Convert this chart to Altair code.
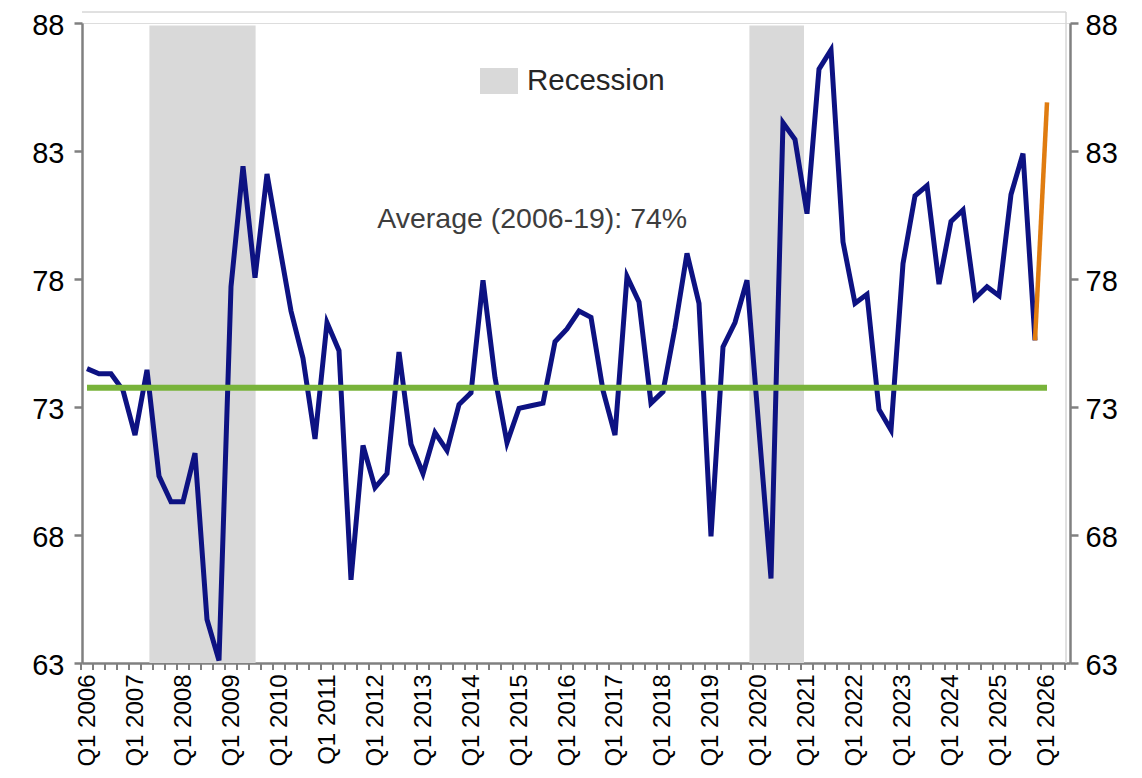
import altair as alt
import pandas as pd

# ---- data (quarter index 0 = Q1 2006) ----
quarter_index = list(range(80))
utilisation = [74.5, 74.3, 74.3, 73.65, 71.9, 74.45, 70.3, 69.3, 69.3, 71.2,
               64.7, 63.1, 77.7, 82.4, 78.05, 82.1, 79.4, 76.75, 74.9, 71.75,
               76.3, 75.2, 66.25, 71.5, 69.85, 70.4, 75.15, 71.55, 70.4, 72.0,
               71.3, 73.1, 73.55, 77.95, 74.15, 71.6, 72.95, 73.05, 73.15, 75.55,
               76.05, 76.75, 76.5, 73.65, 71.9, 78.1, 77.1, 73.15, 73.6, 76.1,
               79.0, 77.05, 67.95, 75.35, 76.3, 77.95, 72.1, 66.3, 84.1, 83.45,
               80.55, 86.2, 86.95, 79.45, 77.05, 77.4, 72.9, 72.1, 78.6, 81.25,
               81.65, 77.8, 80.25, 80.7, 77.25, 77.7, 77.35, 81.3, 82.9, 75.6]

latest_index = [79, 80]
latest_values = [75.6, 84.9]

average_index = [0, 80]
average_values = [73.75, 73.75]

recession_start = [5.2, 55.2]
recession_end = [14.05, 59.75]
recession_name = ["Recession", "Recession"]

label_quarters = list(range(0, 81, 4))
tick_boundaries = [q - 0.5 for q in range(83)]
y_ticks = [63, 68, 73, 78, 83, 88]

annotation_text = ["Average (2006-19): 74%"]
annotation_q = [37.1]
annotation_v = [80.35]

# ---- tables ----
main_df = pd.DataFrame({"q": quarter_index, "v": utilisation})
latest_df = pd.DataFrame({"q": latest_index, "v": latest_values})
avg_df = pd.DataFrame({"q": average_index, "v": average_values})
rec_df = pd.DataFrame({"q": recession_start, "q2": recession_end, "name": recession_name})
tick_df = pd.DataFrame({"q": tick_boundaries})
ann_df = pd.DataFrame({"q": annotation_q, "v": annotation_v, "t": annotation_text})

FONT = "Liberation Sans"
GREY = "#808080"
W, H = 988, 640

x_scale = alt.Scale(domain=[-0.4167, 81.9167], nice=False, zero=False)
y_scale = alt.Scale(domain=[63, 88], nice=False, zero=False)

x_axis = alt.Axis(values=label_quarters, labelExpr="'Q1 ' + (2006 + datum.value/4)",
                  labelAngle=-90, ticks=False, grid=False, title=None,
                  labelFont=FONT, labelFontSize=24, labelColor="#000000",
                  labelPadding=11, domainColor=GREY, domainWidth=2.5)

def X(field="q"):
    return alt.X(f"{field}:Q", scale=x_scale, axis=x_axis)

def y_axis(orient, pad):
    return alt.Axis(orient=orient, values=y_ticks, grid=False, title=None,
                    tickSize=8, tickWidth=2.5, tickColor=GREY,
                    domainColor=GREY, domainWidth=2.5,
                    labelFont=FONT, labelFontSize=29, labelColor="#000000",
                    labelPadding=pad, labelOffset=2)

rec = alt.Chart(rec_df).mark_rect(color="#d9d9d9").encode(
    x=X("q"), x2="q2:Q",
    y=alt.datum(63, scale=y_scale), y2=alt.datum(87.9),
    color=alt.Color("name:N", scale=alt.Scale(domain=["Recession"], range=["#d9d9d9"]),
                    legend=alt.Legend(title=None, orient="none", legendX=398, legendY=39,
                                      symbolType="M-1,-0.68H1V0.68H-1Z", symbolSize=1444,
                                      symbolStrokeWidth=0, labelFont=FONT, labelFontSize=29.5,
                                      labelColor="#262626", labelOffset=9, padding=0)),
)

blue = alt.Chart(main_df).mark_line(color="#0d1282", strokeWidth=5).encode(
    x=X(), y=alt.Y("v:Q", scale=y_scale, axis=y_axis("left", 10)))
orange = alt.Chart(latest_df).mark_line(color="#e07c10", strokeWidth=4.5).encode(x=X(), y="v:Q")

minor_ticks = alt.Chart(tick_df).mark_rule(color=GREY, strokeWidth=2).encode(
    x=X(), y=alt.value(H), y2=alt.value(H + 7))

ann = alt.Chart(ann_df).mark_text(font=FONT, fontSize=28.5, color="#3d3d3d",
                                  align="center", baseline="middle").encode(
    x=X(), y="v:Q", text="t:N")

frame_top = alt.Chart(avg_df).mark_rule(color="#d6d6d6", strokeWidth=1).encode(
    x=alt.value(0), x2=alt.value(W - 4), y=alt.value(-11))
frame_right = alt.Chart(avg_df).mark_rule(color="#d6d6d6", strokeWidth=1).encode(
    x=alt.value(W - 4), y=alt.value(-11), y2=alt.value(H))

left = alt.layer(frame_top, frame_right, rec, blue, orange, minor_ticks, ann)

green = alt.Chart(avg_df).mark_line(color="#78b33a", strokeWidth=6).encode(
    x=X(), y=alt.Y("v:Q", scale=y_scale, axis=y_axis("right", 7)))

chart = alt.layer(left, green).resolve_scale(y="independent").properties(
    width=W, height=H,
    autosize=alt.AutoSizeParams(type="none"),
    padding={"left": 74, "top": 15, "right": 56, "bottom": 105},
).configure_view(stroke=None).configure(background="white")

chart.save("out.html", embed_options={"renderer": "svg", "actions": False})
